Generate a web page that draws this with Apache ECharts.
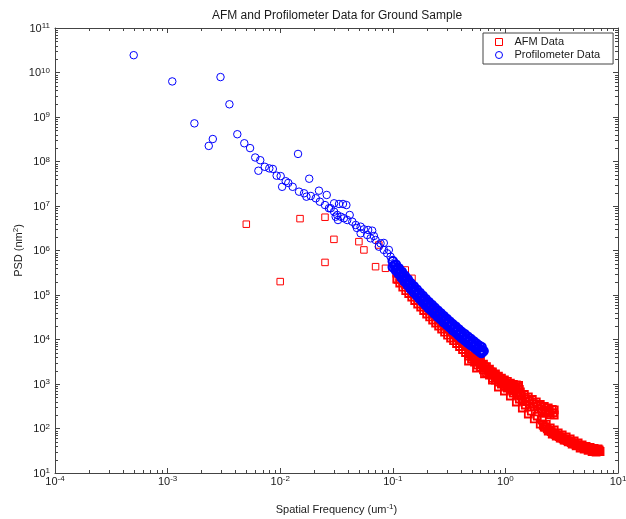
<!DOCTYPE html>
<html><head><meta charset="utf-8">
<script src="https://cdn.jsdelivr.net/npm/echarts@6/dist/echarts.min.js"></script>
<style>html,body{margin:0;padding:0;background:#fff}#c{width:626px;height:519px}</style>
</head><body><div id="c"></div>
<script>
const titleText = 'AFM and Profilometer Data for Ground Sample';
const seriesNames = ['AFM Data', 'Profilometer Data'];
const xMin = 1e-4, xMax = 10;
const yMin = 10, yMax = 1e11;

// AFM Data (red squares): [spatial frequency, PSD]
const afmSparse = [[5.0e-3,3.9e6],[1.0e-2,2.0e5],[1.5e-2,5.2e6],[2.5e-2,5.6e6],[3.0e-2,1.78e6],[2.5e-2,5.4e5],[5.0e-2,1.58e6],[5.54e-2,1.03e6],[7.51e-2,1.33e6],[7.03e-2,4.33e5],[8.61e-2,3.98e5],[0.109,2.17e5],[0.129,3.65e5],[0.148,2.37e5]];
const afmScanA = [[0.1085,3.12e5],[0.1085,2.29e5],[0.1153,2.54e5],[0.1153,1.86e5],[0.1226,2.06e5],[0.1226,1.51e5],[0.1303,1.72e5],[0.1303,1.26e5],[0.1385,1.47e5],[0.1385,1.08e5],[0.1473,1.23e5],[0.1473,9.02e4],[0.1565,1.03e5],[0.1565,7.52e4],[0.1664,8.55e4],[0.1664,6.28e4],[0.1769,7.33e4],[0.1769,5.37e4],[0.1880,6.11e4],[0.1880,4.49e4],[0.1999,5.11e4],[0.1999,3.74e4],[0.2125,4.37e4],[0.2125,3.21e4],[0.2259,3.74e4],[0.2259,2.74e4],[0.2401,3.21e4],[0.2401,2.35e4],[0.2553,2.74e4],[0.2553,2.01e4],[0.2714,2.35e4],[0.2714,1.72e4],[0.2884,2.01e4],[0.2884,1.47e4],[0.3066,1.72e4],[0.3066,1.26e4],[0.3260,1.47e4],[0.3260,1.08e4],[0.3465,1.29e4],[0.3465,9.48e3],[0.3684,1.11e4],[0.3684,8.13e3],[0.3916,9.48e3],[0.3916,6.97e3],[0.4163,8.13e3],[0.4163,5.96e3],[0.4426,6.97e3],[0.4426,5.11e3],[0.4705,5.81e3],[0.4705,4.26e3],[0.5001,4.98e3],[0.5001,3.65e3],[0.5317,4.26e3],[0.5317,3.12e3],[0.5652,3.65e3],[0.5652,2.67e3],[0.6009,3.21e3],[0.6009,2.35e3],[0.6388,2.81e3],[0.6388,2.07e3],[0.6790,2.47e3],[0.6790,1.81e3],[0.7218,2.17e3],[0.7218,1.59e3],[0.7673,1.86e3],[0.7673,1.36e3],[0.8157,1.68e3],[0.8157,1.23e3],[0.8671,1.51e3],[0.8671,1.11e3],[0.9218,1.36e3],[0.9218,1.00e3],[0.9799,1.23e3],[0.9799,902],[1.041,1.14e3],[1.041,834],[1.107,1.05e3],[1.107,772],[1.177,975],[1.177,714],[1.251,950],[1.251,628],[1.303,857],[1.303,566],[0.4851,4.98e3],[0.5156,4.26e3],[0.5482,3.65e3],[0.5827,3.12e3],[0.6195,2.74e3],[0.6586,2.41e3],[0.7000,2.12e3],[0.7442,1.86e3],[0.7911,1.59e3],[0.8410,1.44e3],[0.8940,1.29e3],[0.9504,1.17e3],[1.010,1.05e3],[1.073,975],[1.141,902],[1.213,834],[1.290,773],[1.33,760],[1.31,930]];
const afmScanB = [[1.358,661],[1.414,449],[1.473,581],[1.534,400],[1.598,511],[1.664,352],[1.733,449],[1.806,309],[1.880,394],[1.959,272],[2.040,346],[2.125,241],[2.214,312],[2.306,221],[2.401,289],[2.501,204],[2.606,267],[2.714,201],[2.714,261],[1.385,537],[1.503,468],[1.631,411],[1.769,361],[1.920,317],[2.083,281],[2.259,258],[2.451,241],[2.660,226]];
const afmScanC = [[0.4705,3.29e3],[0.5105,4.04e3],[0.5537,2.29e3],[0.6009,2.81e3],[0.6519,1.68e3],[0.7073,1.96e3],[0.7673,1.23e3],[0.8157,1.51e3],[0.8671,857],[0.9218,1.05e3],[0.9799,697],[1.041,813],[1.107,537],[1.177,628],[1.251,394],[1.330,460],[1.414,289],[1.503,337],[1.598,212],[1.699,247],[1.806,164],[1.920,191],[2.040,126],[2.125,155],[2.214,108],[2.306,126],[2.401,87.9],[2.501,103],[2.606,75.2],[2.714,92.5],[2.827,67.9],[2.944,79.3],[3.066,61.2],[3.194,71.5],[3.327,55.2],[3.465,64.4],[3.610,49.8],[3.760,58.1],[3.916,44.9],[4.079,52.4],[4.249,40.5],[4.426,47.2],[4.610,36.5],[4.801,42.6],[5.001,34.6],[5.209,39.4],[5.426,32.1],[5.652,37.4],[5.886,30.4],[6.133,35.6],[6.388,29.6],[6.653,34.6],[6.929,30.4],[6.790,32.9],[2.169,117],[2.259,108],[2.353,98.5],[2.451,91.2],[2.553,84.7],[2.660,79.3],[2.770,74.1],[2.884,69.7],[3.005,65.5],[3.130,61.8],[3.260,58.7],[3.396,55.7],[3.537,53.2],[3.684,50.8],[3.837,48.5],[3.997,46.6],[4.163,44.7],[4.336,42.9],[4.517,41.3],[4.705,39.8],[4.900,38.4],[5.105,37.2],[5.317,36.1],[5.537,35.0],[5.768,34.1],[6.009,33.2],[6.259,32.5],[6.519,31.9],[6.790,31.2]];

// Profilometer Data (blue circles)
const profSparse = [[5.0e-4,2.45e10],[1.1e-3,6.3e9],[2.95e-3,7.9e9],[3.54e-3,1.93e9],[1.73e-3,7.2e8],[2.32e-3,2.24e8],[2.52e-3,3.2e8],[4.16e-3,4.1e8],[4.8e-3,2.57e8],[5.4e-3,2.0e8],[6.0e-3,1.23e8],[6.65e-3,1.07e8],[6.4e-3,6.2e7],[7.3e-3,7.6e7],[8.0e-3,7.0e7],[8.6e-3,6.8e7],[9.3e-3,4.8e7],[1.01e-2,4.7e7],[1.04e-2,2.7e7],[1.12e-2,3.6e7],[1.18e-2,3.3e7],[1.29e-2,2.7e7],[1.44e-2,1.48e8],[1.81e-2,4.1e7]];
const profCluster = [[1.47e-2,2.1e7],[1.63e-2,1.93e7],[1.71e-2,1.62e7],[1.87e-2,1.68e7],[2.07e-2,1.49e7],[2.21e-2,2.21e7],[2.25e-2,1.25e7],[2.59e-2,1.77e7],[2.50e-2,1.05e7],[2.71e-2,8.9e6],[3.01e-2,1.15e7],[3.11e-2,5.75e6],[3.26e-2,4.84e6],[3.33e-2,1.11e7],[3.61e-2,1.11e7],[3.87e-2,1.05e7],[2.81e-2,8.9e6],[3.01e-2,7.45e6],[3.21e-2,6.28e6],[3.45e-2,5.75e6],[3.68e-2,5.3e6],[3.94e-2,4.84e6],[4.14e-2,6.28e6],[4.37e-2,4.44e6],[4.68e-2,3.74e6],[5.18e-2,3.43e6],[5.54e-2,2.99e6],[6.04e-2,2.89e6],[6.56e-2,2.79e6],[5.93e-2,2.23e6],[6.35e-2,1.88e6],[7.03e-2,1.72e6],[7.78e-2,1.45e6],[7.51e-2,1.22e6],[8.32e-2,1.03e6],[8.91e-2,8.65e5],[9.55e-2,7.26e5],[5.18e-2,2.43e6],[6.79e-2,2.12e6],[8.32e-2,1.48e6],[9.22e-2,1.03e6],[4.80e-2,3.21e6]];
const profBand = [[0.1000,5.75e5],[0.1000,4.27e5],[0.1063,4.84e5],[0.1063,3.59e5],[0.1130,3.98e5],[0.1130,2.99e5],[0.1201,3.31e5],[0.1201,2.45e5],[0.1277,2.72e5],[0.1277,2.02e5],[0.1357,2.26e5],[0.1357,1.68e5],[0.1443,1.84e5],[0.1443,1.38e5],[0.1534,1.57e5],[0.1534,1.16e5],[0.1631,1.33e5],[0.1631,9.89e4],[0.1733,1.12e5],[0.1733,8.32e4],[0.1842,9.55e4],[0.1842,7.08e4],[0.1959,8.13e4],[0.1959,6.03e4],[0.2083,6.92e4],[0.2083,5.13e4],[0.2214,6.03e4],[0.2214,4.47e4],[0.2353,5.19e4],[0.2353,3.85e4],[0.2502,4.47e4],[0.2502,3.31e4],[0.2660,3.89e4],[0.2660,2.88e4],[0.2827,3.35e4],[0.2827,2.48e4],[0.3005,2.92e4],[0.3005,2.19e4],[0.3194,2.54e4],[0.3194,1.91e4],[0.3396,2.21e4],[0.3396,1.64e4],[0.3610,1.95e4],[0.3610,1.45e4],[0.3837,1.70e4],[0.3837,1.26e4],[0.4079,1.48e4],[0.4079,1.10e4],[0.4336,1.32e4],[0.4336,9.77e3],[0.4610,1.16e4],[0.4610,8.61e3],[0.4900,1.04e4],[0.4900,7.67e3],[0.5209,9.12e3],[0.5209,6.84e3],[0.5537,8.04e3],[0.5537,6.03e3],[0.5886,7.16e3],[0.5886,5.37e3],[0.6133,6.76e3],[0.6133,5.01e3],[0.6388,5.52e3],
[0.1031,4.65e5],[0.1096,3.87e5],[0.1165,3.23e5],[0.1238,2.65e5],[0.1317,2.19e5],[0.1399,1.81e5],[0.1488,1.48e5],[0.1582,1.26e5],[0.1682,1.07e5],[0.1787,9.05e4],[0.1899,7.67e4],[0.2020,6.50e4],[0.2148,5.56e4],[0.2283,4.81e4],[0.2426,4.17e4],[0.2580,3.60e4],[0.2743,3.12e4],[0.2915,2.70e4],[0.3098,2.35e4],[0.3293,2.05e4],[0.3501,1.78e4],[0.3722,1.56e4],[0.3956,1.36e4],[0.4206,1.19e4],[0.4471,1.05e4],[0.4753,9.33e3],[0.5052,8.29e3],[0.5370,7.36e3],[0.5709,6.50e3],[0.6068,5.77e3],[0.6323,5.42e3]];

const FONT = 'Liberation Sans, Arial, Helvetica, sans-serif';
const AXIS_COLOR = '#444';
const TXT = '#1a1a1a';
const RED = '#ff0000', BLUE = '#0000ff';
const richPow = {
  b: {fontSize: 11, color: TXT, fontFamily: FONT, verticalAlign: 'bottom', lineHeight: 12},
  e: {fontSize: 8, color: TXT, fontFamily: FONT, verticalAlign: 'top', lineHeight: 9, padding: [0, 0, 8, 0]}
};
function powLabel(v) {
  const e = Math.round(Math.log10(v));
  return '{b|10}{e|' + e + '}';
}
const tickStyle = {show: true, inside: true, length: 5, lineStyle: {color: AXIS_COLOR, width: 1}};
const lineStyle = {show: true, lineStyle: {color: AXIS_COLOR, width: 1}};

function scatter(name, data, symbol, size, color, bw, z) {
  return {
    name: name, type: 'scatter', data: data, symbol: symbol, symbolSize: size,
    itemStyle: {color: 'rgba(0,0,0,0)', borderColor: color, borderWidth: bw, opacity: 1},
    emphasis: {disabled: true}, z: z, large: false
  };
}

const chart = echarts.init(document.getElementById('c'), null, {renderer: 'canvas'});
const option = {
  animation: false,
  backgroundColor: '#fff',
  textStyle: {fontFamily: FONT},
  title: {
    text: titleText, left: 337, top: 10, padding: 0, textAlign: 'center',
    textStyle: {fontSize: 12, fontWeight: 'normal', color: TXT, fontFamily: FONT}
  },
  grid: {left: 55, right: 8, top: 28, bottom: 46, containLabel: false, outerBoundsMode: 'none'},
  legend: {
    orient: 'vertical', left: 483, top: 33,
    padding: [2.5, 13, 2.5, 12], itemGap: 0, itemWidth: 7, itemHeight: 7,
    borderColor: AXIS_COLOR, borderWidth: 1, backgroundColor: '#fff',
    textStyle: {fontSize: 11, color: TXT, fontFamily: FONT, lineHeight: 13, padding: [0, 0, 0, 7]},
    data: [
      {name: seriesNames[0], icon: 'rect', itemStyle: {color: 'rgba(0,0,0,0)', borderColor: RED, borderWidth: 1}},
      {name: seriesNames[1], icon: 'circle', itemStyle: {color: 'rgba(0,0,0,0)', borderColor: BLUE, borderWidth: 1}}
    ],
    selectedMode: false
  },
  xAxis: [{
    type: 'log', logBase: 10, min: xMin, max: xMax, interval: 1, position: 'bottom',
    axisLine: lineStyle, axisTick: tickStyle, splitLine: {show: false},
    axisLabel: {formatter: powLabel, rich: richPow, margin: 2, hideOverlap: false},
    name: '{t|Spatial Frequency (um}{e|-1}{t|)}', nameLocation: 'middle', nameGap: 30, nameMoveOverlap: false,
    nameTextStyle: {rich: {
      t: {fontSize: 11, color: TXT, fontFamily: FONT, verticalAlign: 'bottom', lineHeight: 12},
      e: {fontSize: 8, color: TXT, fontFamily: FONT, verticalAlign: 'top', lineHeight: 9, padding: [0, 0, 8, 0]}
    }}
  }, {
    type: 'log', logBase: 10, min: xMin, max: xMax, interval: 1, position: 'top',
    axisLine: lineStyle, axisTick: tickStyle, splitLine: {show: false}, axisLabel: {show: false}
  }],
  yAxis: [{
    type: 'log', logBase: 10, min: yMin, max: yMax, interval: 1, position: 'left',
    axisLine: lineStyle, axisTick: tickStyle, splitLine: {show: false},
    axisLabel: {formatter: powLabel, rich: richPow, margin: 5, hideOverlap: false, interval: 0},
    name: '{t|PSD (nm}{e|2}{t|)}', nameLocation: 'middle', nameGap: 31, nameRotate: 90, nameMoveOverlap: false,
    nameTextStyle: {rich: {
      t: {fontSize: 11, color: TXT, fontFamily: FONT, verticalAlign: 'bottom', lineHeight: 12},
      e: {fontSize: 8, color: TXT, fontFamily: FONT, verticalAlign: 'top', lineHeight: 9, padding: [0, 0, 8, 0]}
    }}
  }, {
    type: 'log', logBase: 10, min: yMin, max: yMax, interval: 1, position: 'right',
    axisLine: lineStyle, axisTick: tickStyle, splitLine: {show: false}, axisLabel: {show: false}
  }],
  series: [
    scatter(seriesNames[0], afmSparse, 'rect', 6.5, RED, 1, 2),
    scatter(seriesNames[0], afmScanA.concat(afmScanB, afmScanC), 'rect', 7, RED, 1.8, 2),
    scatter(seriesNames[1], profSparse.concat(profCluster), 'circle', 7.5, BLUE, 1, 3),
    scatter(seriesNames[1], profBand, 'circle', 8.5, BLUE, 2.2, 3)
  ]
};
chart.setOption(option);

// Minor log ticks (2..9 per decade) on all four sides, placed through the axes' own scales.
(function addMinorTicks() {
  const g = [];
  const xl = chart.convertToPixel({xAxisIndex: 0}, xMin), xr = chart.convertToPixel({xAxisIndex: 0}, xMax);
  const yb = chart.convertToPixel({yAxisIndex: 0}, yMin), yt = chart.convertToPixel({yAxisIndex: 0}, yMax);
  const st = {stroke: AXIS_COLOR, lineWidth: 1};
  for (let n = -4; n < 1; n++) {
    for (let k = 2; k <= 9; k++) {
      const px = Math.round(chart.convertToPixel({xAxisIndex: 0}, k * Math.pow(10, n))) + 0.5;
      g.push({type: 'line', silent: true, shape: {x1: px, y1: yb, x2: px, y2: yb - 3}, style: st});
      g.push({type: 'line', silent: true, shape: {x1: px, y1: yt, x2: px, y2: yt + 3}, style: st});
    }
  }
  for (let n = 1; n < 11; n++) {
    for (let k = 2; k <= 9; k++) {
      const py = Math.round(chart.convertToPixel({yAxisIndex: 0}, k * Math.pow(10, n))) + 0.5;
      g.push({type: 'line', silent: true, shape: {x1: xl, y1: py, x2: xl + 3, y2: py}, style: st});
      g.push({type: 'line', silent: true, shape: {x1: xr, y1: py, x2: xr - 3, y2: py}, style: st});
    }
  }
  chart.setOption({graphic: g});
})();
</script>
</body></html>
